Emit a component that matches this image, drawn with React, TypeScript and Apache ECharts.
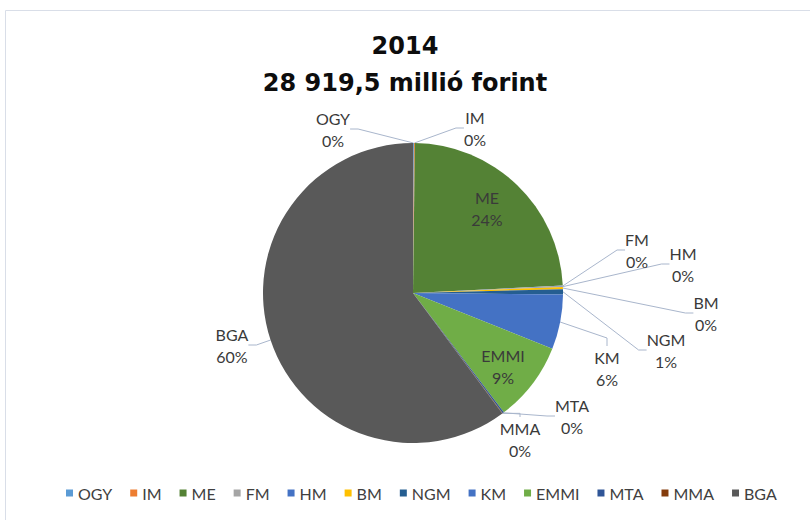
import React, { useEffect, useRef } from 'react';
import * as echarts from 'echarts';

const titleLines = ['2014', '28 919,5 millió forint'];
const categories = ['OGY', 'IM', 'ME', 'FM', 'HM', 'BM', 'NGM', 'KM', 'EMMI', 'MTA', 'MMA', 'BGA'];
const values = [29, 29, 6941, 29, 14, 72, 159, 1706, 2487, 43, 14, 17396.5];
const colors = ['#5B9BD5', '#ED7D31', '#548235', '#A5A5A5', '#4472C4', '#FFC000', '#255E91', '#4472C4', '#70AD47', '#2F5597', '#843C0C', '#595959'];
// label anchor positions (layout only), in px
const labelPos: number[][] = [
  [333, 129], [475, 128], [487, 208], [637, 250], [683, 264], [706, 313],
  [666, 350], [607, 368], [503, 366], [572, 416], [520, 439], [232, 345],
];
const insideLabels = ['ME', 'EMMI'];

export default function App() {
  const ref = useRef<HTMLDivElement>(null);
  useEffect(() => {
    document.body.style.margin = '0';
    const chart = echarts.init(ref.current!, undefined, { renderer: 'svg' });
    const font = 'Lato, "Open Sans", sans-serif';
    chart.setOption({
      animation: false,
      backgroundColor: '#ffffff',
      color: colors,
      title: {
        text: titleLines.join('\n'),
        left: 'center',
        top: 22,
        textStyle: { fontFamily: '"DejaVu Sans", sans-serif', fontSize: 24, fontWeight: 'bold', color: '#0d0d0d', lineHeight: 37 },
      },
      graphic: [
        {
          type: 'rect',
          shape: { x: 5.5, y: 10.5, width: 900, height: 600 },
          style: { fill: 'none', stroke: '#D9DEE8', lineWidth: 1 },
          silent: true,
        },
      ],
      legend: {
        bottom: 14,
        left: 61,
        icon: 'rect',
        itemWidth: 7,
        itemHeight: 7,
        itemGap: 18,
        textStyle: { fontFamily: font, fontSize: 16, color: '#404040' },
        data: categories,
      },
      series: [
        {
          type: 'pie',
          center: [413, 293],
          radius: 150,
          startAngle: 90,
          clockwise: true,
          avoidLabelOverlap: false,
          itemStyle: { borderColor: '#ffffff', borderWidth: 0 },
          label: {
            show: true,
            position: 'outside',
            fontFamily: font,
            fontSize: 16,
            lineHeight: 22,
            color: '#3a3a3a',
            formatter: (p: any) => `${p.name}\n${Math.round(p.percent)}%`,
          },
          labelLine: {
            show: true,
            length: 10,
            length2: 8,
            lineStyle: { color: '#A9B6CC', width: 1 },
          },
          labelLayout: (p: any) => {
            const pos = labelPos[p.dataIndex];
            return { x: pos[0], y: pos[1], align: 'center', verticalAlign: 'middle' };
          },
          data: categories.map((c, i) => ({
            name: c,
            value: values[i],
            labelLine: insideLabels.includes(c) ? { show: false } : undefined,
          })),
        },
      ],
    });
    return () => chart.dispose();
  }, []);
  return <div ref={ref} style={{ width: 810, height: 520 }} />;
}
